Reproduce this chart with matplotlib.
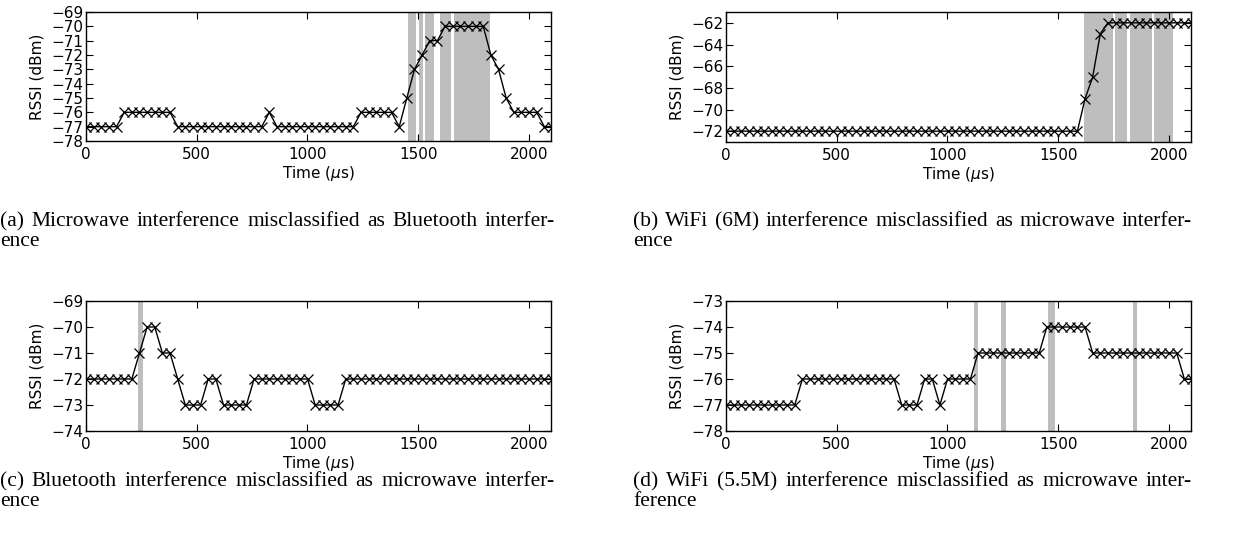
import matplotlib
matplotlib.use('Agg')
import matplotlib.pyplot as plt
import numpy as np

W, H = 1260, 535

# samples every 34.5 us
time_us = np.arange(62) * 34.5

rssi_a = [-77, -77, -77, -77, -77, -76, -76, -76, -76, -76, -76, -76,
          -77, -77, -77, -77, -77, -77, -77, -77, -77, -77, -77, -77,
          -76, -77, -77, -77, -77, -77, -77, -77, -77, -77, -77, -77,
          -76, -76, -76, -76, -76, -77, -75, -73, -72, -71, -71,
          -70, -70, -70, -70, -70, -70, -72, -73, -75,
          -76, -76, -76, -76, -77, -77]
rssi_b = [-72, -72, -72, -72, -72, -72, -72, -72, -72, -72,
          -72, -72, -72, -72, -72, -72, -72, -72, -72, -72,
          -72, -72, -72, -72, -72, -72, -72, -72, -72, -72,
          -72, -72, -72, -72, -72, -72, -72, -72, -72, -72,
          -72, -72, -72, -72, -72, -72, -72, -69, -67, -63,
          -62, -62, -62, -62, -62, -62, -62, -62, -62, -62,
          -62, -62]
rssi_c = [-72, -72, -72, -72, -72, -72, -72, -71, -70, -70, -71, -71,
          -72, -73, -73, -73, -72, -72, -73, -73, -73, -73,
          -72, -72, -72, -72, -72, -72, -72, -72, -73, -73, -73, -73,
          -72, -72, -72, -72, -72, -72, -72, -72, -72, -72, -72, -72,
          -72, -72, -72, -72, -72, -72, -72, -72, -72, -72, -72, -72,
          -72, -72, -72, -72]
rssi_d = [-77, -77, -77, -77, -77, -77, -77, -77, -77, -77,
          -76, -76, -76, -76, -76, -76, -76, -76, -76, -76, -76, -76, -76,
          -77, -77, -77, -76, -76, -77, -76, -76, -76, -76,
          -75, -75, -75, -75, -75, -75, -75, -75, -75,
          -74, -74, -74, -74, -74, -74,
          -75, -75, -75, -75, -75, -75, -75, -75, -75, -75, -75, -75,
          -76, -76]

# shaded detection windows (us)
spans_a = [(1452, 1491), (1502, 1521), (1532, 1570), (1600, 1648), (1663, 1826)]
spans_b = [(1615, 1747), (1758, 1811), (1823, 1924), (1934, 2019)]
spans_c = [(236, 256)]
spans_d = [(1118, 1136), (1244, 1266), (1453, 1486), (1838, 1856)]

captions = [
    ("(a) Microwave interference misclassified as Bluetooth interfer-", "ence"),
    ("(b) WiFi (6M) interference misclassified as microwave interfer-", "ence"),
    ("(c) Bluetooth interference misclassified as microwave interfer-", "ence"),
    ("(d) WiFi (5.5M) interference misclassified as microwave inter-", "ference"),
]

fig = plt.figure(figsize=(12.6, 5.35), dpi=100)


def px_axes(left, top, right, bottom):
    return fig.add_axes([left / W, 1 - bottom / H, (right - left) / W, (bottom - top) / H])


panels = [
    (px_axes(86, 12, 551, 141), rssi_a, spans_a, (-78, -69), np.arange(-78, -68, 1)),
    (px_axes(726, 12, 1191, 142), rssi_b, spans_b, (-73, -61), np.arange(-72, -61, 2)),
    (px_axes(86, 301, 551, 431), rssi_c, spans_c, (-74, -69), np.arange(-74, -68, 1)),
    (px_axes(726, 301, 1191, 431), rssi_d, spans_d, (-78, -73), np.arange(-78, -72, 1)),
]

for ax, vals, spans, ylim, yt in panels:
    for a, b in spans:
        ax.axvspan(a, b, color='#bebebe', lw=0, zorder=1)
    ax.plot(time_us, vals, color='black', lw=1.0, marker='x', ms=7, mew=0.9, zorder=3)
    ax.set_xlim(0, 2100)
    ax.set_ylim(*ylim)
    ax.set_yticks(yt)
    ax.set_xticks([0, 500, 1000, 1500, 2000])
    ax.tick_params(direction='in', top=True, right=True, length=5, labelsize=11)
    ax.tick_params(axis='x', pad=4)
    ax.tick_params(axis='y', pad=2)
    ax.set_ylabel('RSSI (dBm)', fontsize=11, labelpad=5)
    ax.set_xlabel(r'Time ($\mu$s)', fontsize=11, labelpad=1.5)
    for s in ax.spines.values():
        s.set_linewidth(1.0)

# justified captions
renderer = fig.canvas.get_renderer()
cap_font = dict(family='Liberation Serif', fontsize=15.5)
cap_pos = [(0, 555, 222), (633, 1192, 222), (0, 555, 482), (633, 1192, 482)]


def justified(line, x0, x1, y):
    words = line.split(' ')
    texts = [fig.text(0, 1 - y / H, w, va='center', ha='left', **cap_font) for w in words]
    widths = [t.get_window_extent(renderer).width for t in texts]
    gap = (x1 - x0 - sum(widths)) / (len(words) - 1)
    x = x0
    for t, w in zip(texts, widths):
        t.set_x(x / W)
        x += w + gap


for (l1, l2), (x0, x1, y) in zip(captions, cap_pos):
    justified(l1, x0, x1, y)
    fig.text(x0 / W, 1 - (y + 20) / H, l2, va='center', ha='left', **cap_font)

fig.savefig('out.png', dpi=100)
